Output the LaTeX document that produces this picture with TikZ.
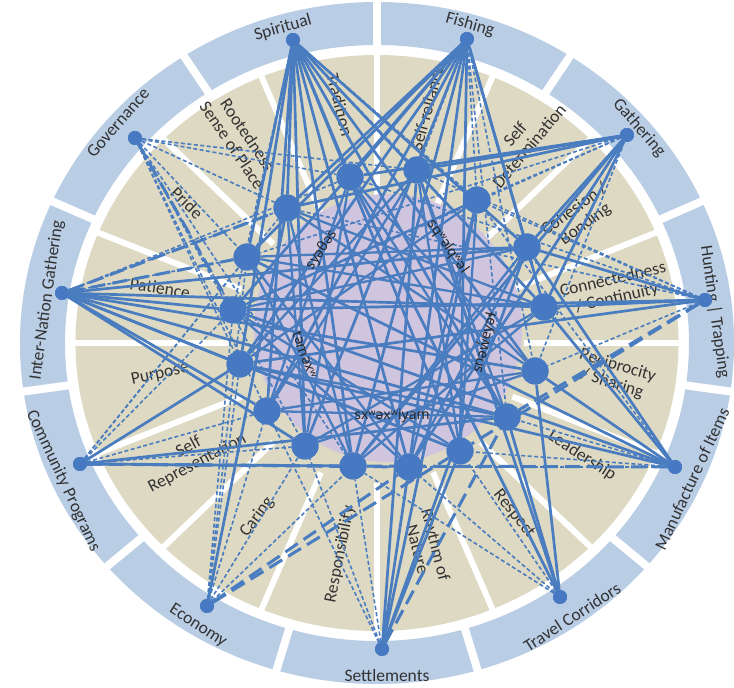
\documentclass[tikz,border=0pt]{standalone}
\usepackage{fontspec}
\setmainfont{Carlito}
\newfontfamily\ipafont{Noto Sans}
\definecolor{ringblue}{HTML}{B9CDE5}
\definecolor{sand}{HTML}{DDD9C3}
\definecolor{purp}{HTML}{CFC5DE}
\definecolor{lineblue}{HTML}{4A7CC0}
\definecolor{dotblue}{HTML}{4779C2}
\definecolor{labelgray}{HTML}{333333}
\begin{document}
\begin{tikzpicture}[x=1pt,y=1pt,
  lbl/.style={font=\fontsize{17.5}{17.5}\selectfont, text=labelgray, inner sep=0pt},
  vlbl/.style={font=\fontsize{17.5}{18.5}\selectfont, text=labelgray, align=center, inner sep=0pt},
  cw/.style={font=\ipafont\fontsize{14}{15}\selectfont, text=black!85, inner sep=0pt},
  sl/.style={draw=lineblue, line width=2.7pt},
  wl/.style={draw=lineblue, line width=2.3pt},
  ds/.style={draw=lineblue, line width=1.6pt, dash pattern=on 4pt off 2.5pt},
  ld/.style={draw=lineblue, line width=3pt, dash pattern=on 15pt off 7pt},
  odot/.style={circle, fill=dotblue, minimum size=14pt, inner sep=0pt},
  idot/.style={circle, fill=dotblue, minimum size=27pt, inner sep=0pt},
]
\fill[white] (0,0) rectangle (734,688);
\useasboundingbox (0,0) rectangle (734,688);

% rings: blue outer band split into 11 parts, sand band split into 16 parts
\begin{scope}[shift={(377,345)}, xscale=1.047]
  \fill[ringblue, even odd rule] (0,0) circle (341) (0,0) circle (298);
  \foreach \a in {0,...,10}
    \draw[white, line width=8pt] (90-32.727*\a:290) -- (90-32.727*\a:350);
  \fill[sand] (0,0) circle (288);
  \foreach \a in {0,...,15}
    \draw[white, line width=6pt] (90-22.5*\a:140) -- (90-22.5*\a:292);
\end{scope}
\fill[purp] (388,360) circle (134);

% outer band labels
\node[lbl, rotate=16]  (t1)  at (283,660) {Spiritual};
\node[lbl, rotate=-16] (t2)  at (470,663) {Fishing};
\node[lbl, rotate=-49] (t3)  at (639,560) {Gathering};
\node[lbl, rotate=-82] (t4)  at (715,376) {Hunting | Trapping};
\node[lbl, rotate=65]  (t5)  at (692,209) {Manufacture of Items};
\node[lbl, rotate=33]  (t6)  at (572,71)  {Travel Corridors};
\node[lbl]             (t7)  at (387,13)  {Settlements};
\node[lbl, rotate=-33] (t8)  at (198,62)  {Economy};
\node[lbl, rotate=-65] (t9)  at (63,207)  {Community Programs};
\node[lbl, rotate=82]  (t10) at (47,388)  {Inter-Nation Gathering};
\node[lbl, rotate=49]  (t11) at (118,565) {Governance};

% sand band labels
\node[vlbl, rotate=-56] (v16) at (240,548) {Rootedness\\Sense of Place};
\node[vlbl, rotate=-76] (v1)  at (340,583) {Tradition};
\node[vlbl, rotate=75]  (v2)  at (427,580) {Self-reliance};
\node[vlbl, rotate=50]  (v3)  at (522,548) {Self\\Determination};
\node[vlbl, rotate=36]  (v4)  at (580,471) {Cohesion /\\Bonding};
\node[vlbl, rotate=13]  (v5)  at (615,399) {Connectedness\\/ Continuity};
\node[vlbl, rotate=-17] (v6)  at (615,313) {Reciprocity\\/ Sharing};
\node[vlbl, rotate=-33] (v7)  at (582,232) {Leadership};
\node[vlbl, rotate=-51] (v8)  at (514,174) {Respect};
\node[vlbl, rotate=-76] (v9)  at (427,141) {Rhythm of\\Nature};
\node[vlbl, rotate=79]  (v10) at (340,134) {Responsibility};
\node[vlbl, rotate=54]  (v11) at (257,171) {Caring};
\node[vlbl, rotate=28]  (v12) at (193,233) {Self\\Representation};
\node[vlbl, rotate=12]  (v13) at (160,314) {Purpose};
\node[vlbl, rotate=-9]  (v14) at (160,400) {Patience};
\node[vlbl, rotate=-44] (v15) at (187,485) {Pride};

% dots
\node[odot] (o1)  at (293,648) {};
\node[odot] (o2)  at (467,649) {};
\node[odot] (o3)  at (627,553) {};
\node[odot] (o4)  at (705,388) {};
\node[odot] (o5)  at (675,221) {};
\node[odot] (o6)  at (560,91)  {};
\node[odot] (o7)  at (382,39)  {};
\node[odot] (o8)  at (207,82)  {};
\node[odot] (o9)  at (80,224)  {};
\node[odot] (o10) at (62,395)  {};
\node[odot] (o11) at (135,550) {};

\node[idot] (d1)  at (350,511) {};
\node[idot] (d2)  at (417,518) {};
\node[idot] (d3)  at (477,488) {};
\node[idot] (d4)  at (527,441) {};
\node[idot] (d5)  at (544,381) {};
\node[idot] (d6)  at (535,317) {};
\node[idot] (d7)  at (507,271) {};
\node[idot] (d8)  at (460,237) {};
\node[idot] (d9)  at (409,221) {};
\node[idot] (d10) at (353,222) {};
\node[idot] (d11) at (305,242) {};
\node[idot] (d12) at (267,277) {};
\node[idot] (d13) at (240,324) {};
\node[idot] (d14) at (233,378) {};
\node[idot] (d15) at (247,431) {};
\node[idot] (d16) at (287,480) {};

% connectors: dashed, long-dashed, then solid
\foreach \o/\l in {o1/{2,3,14}, o2/{2,3,6,7}, o3/{3,15,14,6,1,16}, o4/{3,2,1,6,16,4},
                   o5/{7,8,9,3,6}, o6/{8,9,10,7}, o7/{10,11,12,9},
                   o8/{13,12,11,10,14,15,16}, o9/{14,13,12,11,15,16,9},
                   o10/{15,16,1}, o11/{16,15,14,13,12,11,1,10,2}}
  \foreach \i in \l \draw[ds] (\o) -- (d\i);
\foreach \o/\l in {o4/{7,8}, o5/{10}, o7/{7}, o8/{9,8}, o9/{10,9}, o10/{16,15}, o11/{14}}
  \foreach \i in \l \draw[ld] (\o) -- (d\i);
\foreach \o/\l in {o1/{16,15,13,12,11,10,9,8,7,6,5,4,1},
                   o2/{1,16,15,14,13,12,11,10,9,8,4,5},
                   o3/{2,1,16,4,5,9,10}, o4/{5,14,13,4},
                   o5/{6,5,4,15,14,13}, o6/{6,7,2,1}, o7/{8,9,3,2,4},
                   o8/{16}, o9/{13,10,7}, o10/{14,13,5,6,7,8,12,4,11}}
  \foreach \i in \l \draw[sl] (\o) -- (d\i);
% web between the inner dots
\foreach \i in {1,...,16} {
  \pgfmathtruncatemacro\j{mod(\i+5,16)+1}
  \pgfmathtruncatemacro\k{mod(\i+4,16)+1}
  \draw[wl] (d\i) -- (d\j);
  \draw[wl] (d\i) -- (d\k);
}

% words round the centre
\node[cw]              (w1) at (392,272) {sxʷəxʷiyam};
\node[cw, rotate=55]   (w2) at (322,438) {syəθəs};
\node[cw, rotate=-55]  (w3) at (448,441) {sqʷəlqʷəl};
\node[cw, rotate=75]   (w4) at (485,345) {snəw̓eyəɬ};
\node[cw, rotate=-70]  (w5) at (305,333) {təməxʷ};

% dots over the connectors
\foreach \n in {o1,o2,o3,o4,o5,o6,o7,o8,o9,o10,o11}
  \fill[dotblue] (\n) circle (7);
\foreach \n in {d1,d2,d3,d4,d5,d6,d7,d8,d9,d10,d11,d12,d13,d14,d15,d16}
  \fill[dotblue] (\n) circle (13.5);
\end{tikzpicture}
\end{document}
